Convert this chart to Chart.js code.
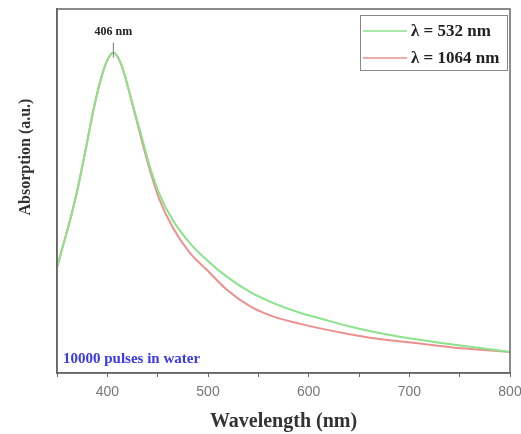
<!DOCTYPE html>
<html>
<head>
<meta charset="utf-8">
<script src="https://cdn.jsdelivr.net/npm/chart.js@4.4.1/dist/chart.umd.min.js"></script>
<style>
  html, body { margin: 0; padding: 0; background: #fff; }
  #wrap { width: 521px; height: 434px; }
</style>
</head>
<body>
<div id="wrap"><canvas id="absChart" width="521" height="434"></canvas></div>
<script>
// wavelengths (nm) and absorption (a.u.)
const wl532 = [350, 356, 363, 370, 376, 381, 386, 391, 396, 401, 406, 411, 416, 421, 428, 436, 443, 452, 465, 482, 499, 519, 542, 565, 592, 609, 642, 674, 708, 741, 774, 800];
const abs532 = [0.29, 0.35, 0.42, 0.50, 0.58, 0.65, 0.72, 0.78, 0.83, 0.865, 0.88, 0.865, 0.83, 0.78, 0.71, 0.63, 0.56, 0.49, 0.42, 0.357, 0.31, 0.264, 0.222, 0.192, 0.165, 0.152, 0.127, 0.108, 0.092, 0.079, 0.067, 0.058];
const wl1064 = [350, 356, 363, 370, 376, 381, 386, 391, 396, 401, 406, 411, 416, 421, 428, 436, 443, 452, 465, 482, 499, 519, 542, 565, 592, 609, 642, 674, 708, 741, 774, 800];
const abs1064 = [0.29, 0.35, 0.42, 0.50, 0.58, 0.65, 0.72, 0.78, 0.83, 0.865, 0.88, 0.865, 0.83, 0.78, 0.705, 0.62, 0.55, 0.475, 0.40, 0.33, 0.283, 0.228, 0.183, 0.155, 0.135, 0.124, 0.106, 0.092, 0.082, 0.071, 0.063, 0.058];
const xTicks = [350, 400, 450, 500, 550, 600, 650, 700, 750, 800];
const peakWl = 406;
const peakLabel = '406 nm';
const noteText = '10000 pulses in water';
const yTitle = 'Absorption (a.u.)';

function toPoints(xs, ys) {
    return xs.map((x, i) => ({ x: x, y: ys[i] }));
}

const serif = '"Liberation Serif", "Times New Roman", serif';

// frame, legend box, y title and annotations
const decor = {
    id: 'decor',
    afterDraw(chart) {
        const ctx = chart.ctx;
        const a = chart.chartArea;
        const xs = chart.scales.x, ys = chart.scales.y;
        ctx.save();
        ctx.strokeStyle = '#666';
        ctx.lineWidth = 1.5;
        ctx.strokeRect(a.left, a.top, a.right - a.left, a.bottom - a.top);

        // legend
        ctx.strokeStyle = '#888';
        ctx.lineWidth = 1;
        ctx.strokeRect(360.5, 15.5, 147, 55);
        ctx.font = 'bold 17px ' + serif;
        ctx.textBaseline = 'middle';
        chart.data.datasets.forEach((ds, i) => {
            const y = 31 + i * 27;
            ctx.strokeStyle = ds.borderColor;
            ctx.lineWidth = 1.5;
            ctx.beginPath();
            ctx.moveTo(363, y);
            ctx.lineTo(407, y);
            ctx.stroke();
            ctx.fillStyle = '#222';
            ctx.textAlign = 'left';
            ctx.fillText(ds.label, 411, y + 1);
        });

        // peak marker
        const px = xs.getPixelForValue(peakWl);
        const py = ys.getPixelForValue(Math.max(...abs532));
        ctx.strokeStyle = '#777';
        ctx.lineWidth = 1;
        ctx.beginPath();
        ctx.moveTo(px, py - 10);
        ctx.lineTo(px, py + 5);
        ctx.stroke();
        ctx.fillStyle = '#222';
        ctx.textAlign = 'center';
        ctx.font = 'bold 12px ' + serif;
        ctx.fillText(peakLabel, px, 32);

        // note
        ctx.fillStyle = '#3a3ae6';
        ctx.textAlign = 'left';
        ctx.font = 'bold 15px ' + serif;
        ctx.fillText(noteText, a.left + 6, a.bottom - 14);

        // y title (sits above centre in the original)
        ctx.translate(26, 157);
        ctx.rotate(-Math.PI / 2);
        ctx.fillStyle = '#333';
        ctx.textAlign = 'center';
        ctx.font = 'bold 16px ' + serif;
        ctx.fillText(yTitle, 0, 0);
        ctx.restore();
    }
};

new Chart(document.getElementById('absChart').getContext('2d'), {
    type: 'line',
    data: {
        datasets: [{
            label: 'λ = 532 nm',
            data: toPoints(wl532, abs532),
            borderColor: '#8be38b',
            borderWidth: 2,
            pointRadius: 0,
            cubicInterpolationMode: 'monotone',
            fill: false
        }, {
            label: 'λ = 1064 nm',
            data: toPoints(wl1064, abs1064),
            borderColor: '#ee8f8f',
            borderWidth: 2,
            pointRadius: 0,
            cubicInterpolationMode: 'monotone',
            fill: false
        }]
    },
    options: {
        responsive: false,
        animation: false,
        layout: { padding: { top: 9, right: 0, left: 0, bottom: 0 } },
        plugins: { legend: { display: false }, tooltip: { enabled: false } },
        scales: {
            x: {
                type: 'linear',
                min: 350,
                max: 800,
                afterBuildTicks: (s) => { s.ticks = xTicks.map(v => ({ value: v })); },
                afterFit: (s) => { s.height = 61; s.paddingRight = 11; s.paddingLeft = 0; },
                ticks: {
                    autoSkip: false,
                    maxRotation: 0,
                    color: '#777',
                    padding: 7,
                    font: { family: 'Liberation Sans, Arial, sans-serif', size: 14 },
                    callback: (v) => (v % 100 === 0 ? String(v) : '')
                },
                grid: { drawOnChartArea: false, drawTicks: true, tickLength: 4, color: '#666' },
                border: { color: '#666', width: 1.5 },
                title: {
                    display: true,
                    text: 'Wavelength (nm)',
                    color: '#333',
                    font: { family: 'Liberation Serif, Times New Roman, serif', size: 20, weight: 'bold' },
                    padding: { top: 2, bottom: 0 }
                }
            },
            y: {
                min: 0,
                max: 1,
                afterFit: (s) => { s.width = 57; },
                ticks: { display: false },
                grid: { display: false },
                border: { color: '#666', width: 1.5 }
            }
        }
    },
    plugins: [decor]
});
</script>
</body>
</html>
